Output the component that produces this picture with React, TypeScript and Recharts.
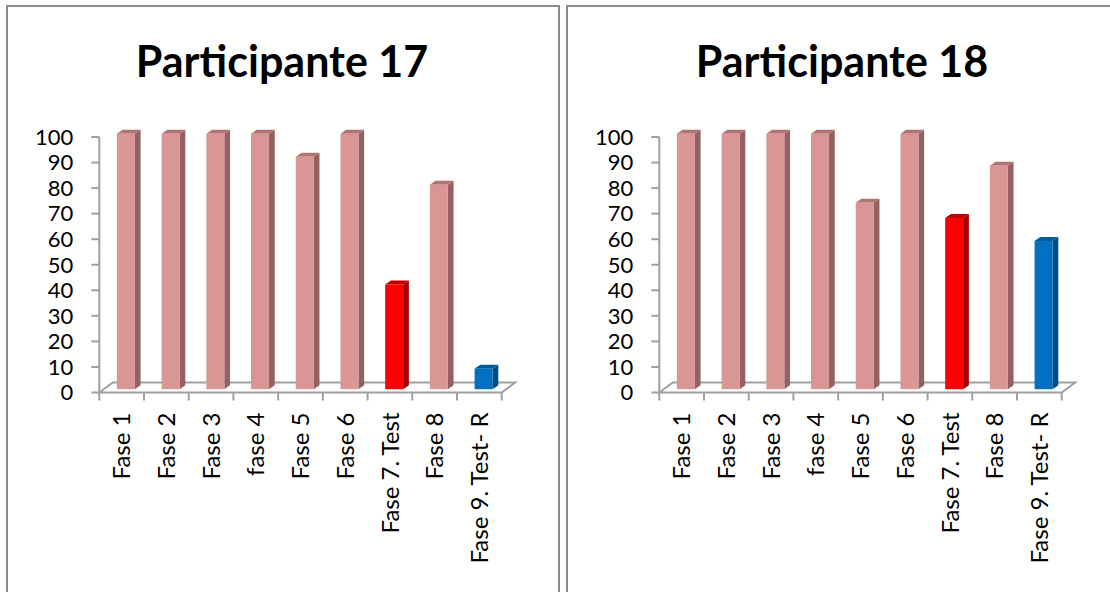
import React from 'react';
import { BarChart, Bar, XAxis, YAxis, Cell, ReferenceArea } from 'recharts';

const categories = ['Fase 1', 'Fase 2', 'Fase 3', 'fase 4', 'Fase 5', 'Fase 6', 'Fase 7. Test', 'Fase 8', 'Fase 9. Test- R'];
const participant17 = [100, 100, 100, 100, 91, 100, 41, 80, 8];
const participant18 = [100, 100, 100, 100, 73, 100, 67, 87.5, 58];
const barColors = ['#D99694', '#D99694', '#D99694', '#D99694', '#D99694', '#D99694', '#FF0000', '#D99694', '#0070C0'];
const yTicks = [0, 10, 20, 30, 40, 50, 60, 70, 80, 90, 100];
const titles = ['Participante 17', 'Participante 18'];

const SHADES: Record<string, { side: string; top: string }> = {
  '#D99694': { side: '#936160', top: '#B07473' },
  '#FF0000': { side: '#A00000', top: '#C40000' },
  '#0070C0': { side: '#004A80', top: '#005A9C' },
};

const FONT = 'Lato, "Open Sans", sans-serif';
const AXIS_GRAY = '#A0A0A0';
const BORDER_GRAY = '#8C8C8C';
const LABEL_GAP = 20;

const Bar3D = (props: any) => {
  const { x, y, width, height, fill } = props;
  if (height == null || isNaN(height)) return null;
  const sx = 4.6;
  const sy = -3.3;
  const dx = 5.7;
  const dy = 4;
  const fx = x + sx;
  const fy = y + sy;
  const w = width;
  const h = height;
  const shade = SHADES[fill] || { side: fill, top: fill };
  return (
    <g>
      <polygon
        points={`${fx + w},${fy} ${fx + w + dx},${fy - dy} ${fx + w + dx},${fy + h - dy} ${fx + w},${fy + h}`}
        fill={shade.side}
      />
      <polygon
        points={`${fx},${fy} ${fx + dx},${fy - dy} ${fx + w + dx},${fy - dy} ${fx + w},${fy}`}
        fill={shade.top}
      />
      <rect x={fx} y={fy} width={w} height={h} fill={fill} />
    </g>
  );
};

const Floor = (props: any) => {
  const { x, y, width, height } = props;
  const bottom = y + height;
  const dx = 13.5;
  const dy = 10;
  return (
    <path
      d={`M${x},${bottom} L${x + dx},${bottom - dy} L${x + width + dx},${bottom - dy} L${x + width},${bottom} Z`}
      fill="none"
      stroke={AXIS_GRAY}
      strokeWidth={2}
    />
  );
};

const XTick = (props: any) => {
  const { x, y, payload, index, visibleTicksCount } = props;
  const half = payload && typeof payload.offset === 'number' ? payload.offset : 0;
  const axisY = y - LABEL_GAP;
  const isLast = visibleTicksCount != null ? index === visibleTicksCount - 1 : index === categories.length - 1;
  return (
    <g>
      {half > 0 && (
        <line x1={x - half} x2={x - half} y1={axisY} y2={axisY + 8} stroke={AXIS_GRAY} strokeWidth={2} />
      )}
      {half > 0 && isLast && (
        <line x1={x + half} x2={x + half} y1={axisY} y2={axisY + 8} stroke={AXIS_GRAY} strokeWidth={2} />
      )}
      <text
        x={x}
        y={y}
        transform={`rotate(-90 ${x} ${y})`}
        textAnchor="end"
        dy="0.36em"
        fontSize={24}
        fontFamily={FONT}
        fill="#000"
      >
        {payload.value}
      </text>
    </g>
  );
};

const Panel = ({ values }: { values: number[] }) => {
  const data = categories.map((name, i) => ({ name, value: values[i] }));
  return (
    <BarChart
      width={554}
      height={592}
      data={data}
      margin={{ top: 137, right: 58.3, bottom: 0, left: 0 }}
    >
      <ReferenceArea y1={0} y2={2} ifOverflow="visible" shape={Floor} />
      <XAxis
        dataKey="name"
        height={199.5}
        tickLine={false}
        axisLine={false}
        tickSize={0}
        tickMargin={LABEL_GAP}
        interval={0}
        tick={<XTick />}
      />
      <YAxis
        domain={[0, 100]}
        ticks={yTicks}
        interval={0}
        width={93.3}
        tickSize={8}
        tickMargin={18}
        axisLine={{ stroke: AXIS_GRAY, strokeWidth: 2 }}
        tickLine={{ stroke: AXIS_GRAY, strokeWidth: 2 }}
        tick={{ fill: '#000', fontSize: 22, fontFamily: FONT }}
      />
      <Bar dataKey="value" barSize={18} isAnimationActive={false} shape={Bar3D}>
        {barColors.map((c, i) => (
          <Cell key={i} fill={c} />
        ))}
      </Bar>
    </BarChart>
  );
};

export default function App() {
  const lefts = [6, 566];
  const series = [participant17, participant18];
  return (
    <div
      style={{
        position: 'absolute',
        left: 0,
        top: 0,
        width: 1110,
        height: 592,
        overflow: 'hidden',
        background: '#fff',
      }}
    >
      {lefts.map((l, i) => (
        <div
          key={'b' + i}
          style={{
            position: 'absolute',
            left: l,
            top: 5,
            width: 554,
            height: 700,
            border: `2px solid ${BORDER_GRAY}`,
            boxSizing: 'border-box',
          }}
        />
      ))}
      {lefts.map((l, i) => (
        <div key={'c' + i} style={{ position: 'absolute', left: l, top: 0 }}>
          <Panel values={series[i]} />
        </div>
      ))}
      <svg
        width={1110}
        height={100}
        style={{ position: 'absolute', left: 0, top: 0, pointerEvents: 'none' }}
      >
        {lefts.map((l, i) => (
          <text
            key={i}
            x={l + 276}
            y={77}
            textAnchor="middle"
            fontSize={43}
            fontWeight="bold"
            fontFamily={FONT}
            fill="#000"
          >
            {titles[i]}
          </text>
        ))}
      </svg>
    </div>
  );
}
